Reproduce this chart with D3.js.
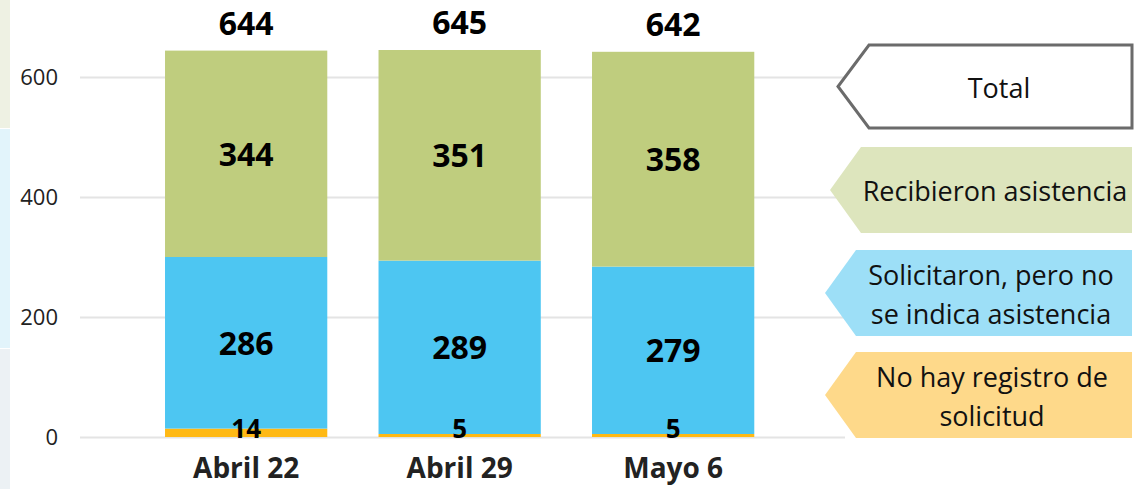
<!DOCTYPE html>
<html lang="es">
<head>
    <meta charset="UTF-8">
    <title>Solicitudes de asistencia</title>
    <script src="https://d3js.org/d3.v7.min.js"></script>
    <style>
        body { margin: 0; background: #ffffff; }
        svg { display: block; font-family: "Open Sans", "Noto Sans", sans-serif; }
    </style>
</head>
<body>

<svg id="chart" width="1142" height="489"></svg>

<script>

    // data
    var categories = ["Abril 22", "Abril 29", "Mayo 6"];
    var sinRegistro = [14, 5, 5];
    var solicitaron = [286, 289, 279];
    var recibieron = [344, 351, 358];
    var totals = [644, 645, 642];
    var yTicks = [0, 200, 400, 600];

    var seriesKeys = ["sinRegistro", "solicitaron", "recibieron"];
    var seriesColors = { sinRegistro: "#ffb915", solicitaron: "#4dc6f2", recibieron: "#bfcd7e" };

    var legendLabels = [
        ["Total"],
        ["Recibieron asistencia"],
        ["Solicitaron, pero no", "se indica asistencia"],
        ["No hay registro de", "solicitud"]
    ];
    var legendFills = ["#ffffff", "#dde5bd", "#9ddff7", "#fed98a"];

    var canvas = d3.select("#chart");

    // faint strips on the left edge
    var strips = [[0, 128, "#eef1e3"], [129, 348, "#e2f4fb"], [349, 489, "#ecf1f4"]];
    canvas.selectAll("rect.strip")
        .data(strips)
        .enter()
        .append("rect")
        .attr("class", "strip")
        .attr("x", 0)
        .attr("y", function (d) { return d[0]; })
        .attr("width", 10)
        .attr("height", function (d) { return d[1] - d[0]; })
        .attr("fill", function (d) { return d[2]; });

    var rows = categories.map(function (c, i) {
        return { cat: c, sinRegistro: sinRegistro[i], solicitaron: solicitaron[i], recibieron: recibieron[i], total: totals[i] };
    });

    var x = d3.scaleBand()
        .domain(categories)
        .range([139.4, 779.9])
        .paddingInner(0.24)
        .paddingOuter(0.12);

    var y = d3.scaleLinear()
        .domain([0, 680])
        .range([437, 29]);

    // gridlines + y labels
    var yAxis = d3.axisLeft(y)
        .tickValues(yTicks)
        .tickSize(-765)
        .tickPadding(22);

    var gy = canvas.append("g")
        .attr("transform", "translate(80,0)")
        .call(yAxis);
    gy.select(".domain").remove();
    gy.selectAll(".tick line").attr("stroke", "#e4e4e4").attr("stroke-width", 2);
    gy.selectAll(".tick text")
        .attr("font-size", 22)
        .attr("fill", "#222")
        .attr("font-family", "Open Sans, sans-serif");

    var stacked = d3.stack().keys(seriesKeys)(rows);

    var layers = canvas.selectAll("g.layer")
        .data(stacked)
        .enter()
        .append("g")
        .attr("class", "layer")
        .attr("fill", function (d) { return seriesColors[d.key]; });

    layers.selectAll("rect")
        .data(function (d) { return d; })
        .enter()
        .append("rect")
        .attr("x", function (d) { return x(d.data.cat); })
        .attr("width", x.bandwidth())
        .attr("y", function (d) { return y(d[1]); })
        .attr("height", function (d) { return y(d[0]) - y(d[1]); });

    // segment labels, drawn over all the rects
    var segLabels = [];
    stacked.forEach(function (s) {
        s.forEach(function (p) { segLabels.push({ p: p, key: s.key }); });
    });

    canvas.append("g")
        .selectAll("text")
        .data(segLabels)
        .enter()
        .append("text")
        .attr("x", function (d) { return x(d.p.data.cat) + x.bandwidth() / 2; })
        .attr("y", function (d) {
            if (d.key === "sinRegistro") return y(0) + 1;
            return (y(d.p[0]) + y(d.p[1])) / 2 + 12;
        })
        .attr("text-anchor", "middle")
        .attr("font-weight", "bold")
        .attr("font-size", function (d) { return d.key === "sinRegistro" ? 26 : 32; })
        .attr("fill", "#000")
        .text(function (d) { return d.p[1] - d.p[0]; });

    // totals above bars
    canvas.selectAll("text.total")
        .data(rows)
        .enter()
        .append("text")
        .attr("class", "total")
        .attr("x", function (d) { return x(d.cat) + x.bandwidth() / 2; })
        .attr("y", function (d) { return y(d.total) - 16; })
        .attr("text-anchor", "middle")
        .attr("font-weight", "bold")
        .attr("font-size", 32)
        .attr("fill", "#000")
        .text(function (d) { return d.total; });

    // category labels
    var xAxis = d3.axisBottom(x).tickSize(0).tickPadding(21);
    var gx = canvas.append("g")
        .attr("transform", "translate(0,437)")
        .call(xAxis);
    gx.select(".domain").remove();
    gx.selectAll(".tick text")
        .attr("font-size", 28)
        .attr("font-weight", "bold")
        .attr("fill", "#222")
        .attr("font-family", "Open Sans, sans-serif");

    // arrow-shaped legend
    var legendTops = [45, 147, 250, 352];
    var legendX = [999, 995, 991, 992];
    var legend = canvas.selectAll("g.legend")
        .data(legendLabels)
        .enter()
        .append("g")
        .attr("class", "legend")
        .attr("transform", function (d, i) { return "translate(0," + legendTops[i] + ")"; });

    legend.append("path")
        .attr("d", function (d, i) {
            var h = i === 0 ? 83 : 86;
            var tip = i === 0 ? 838 : (i === 1 ? 830 : 825);
            var left = tip + 31;
            return "M" + left + ",0 L1132,0 L1132," + h + " L" + left + "," + h + " L" + tip + "," + (h / 2) + " Z";
        })
        .attr("fill", function (d, i) { return legendFills[i]; })
        .attr("stroke", function (d, i) { return i === 0 ? "#6b6b6b" : "none"; })
        .attr("stroke-width", 3);

    legend.each(function (lines, i) {
        var g = d3.select(this);
        var h = i === 0 ? 83 : 86;
        var lh = 39;
        var y0 = h / 2 - (lines.length - 1) * lh / 2 + 11;
        g.selectAll("text")
            .data(lines)
            .enter()
            .append("text")
            .attr("x", legendX[i])
            .attr("y", function (d, j) { return y0 + j * lh; })
            .attr("text-anchor", "middle")
            .attr("font-size", 27)
            .attr("fill", "#111")
            .text(function (d) { return d; });
    });

</script>
</body>
</html>
